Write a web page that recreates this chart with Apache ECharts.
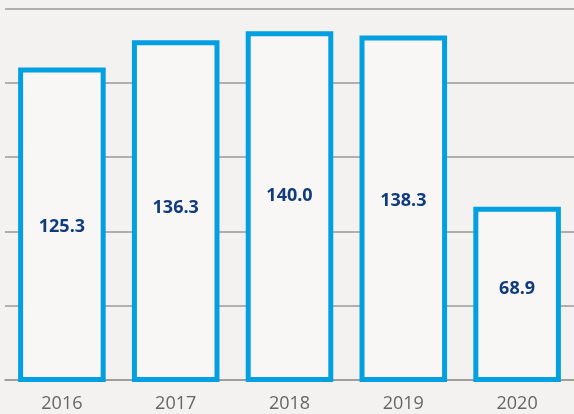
<!DOCTYPE html>
<html>
<head>
<meta charset="utf-8">
<script src="https://cdn.jsdelivr.net/npm/echarts@6/dist/echarts.min.js"></script>
<style>
  html, body { margin: 0; padding: 0; background: #f3f2f1; }
  #chart { width: 574px; height: 414px; }
</style>
</head>
<body>
<div id="chart"></div>
<script>
// 数据
var years = ['2016', '2017', '2018', '2019', '2020'];
var values = [125.3, 136.3, 140.0, 138.3, 68.9];
// label nudges from bar middle (px), the original places them by hand
var labelShift = [2, -3, -11, -8, -6];

var myChart = echarts.init(document.getElementById('chart'));

// bar with border centred on the edge (the built-in bar insets its border)
function renderBar(params, api) {
  var i = api.value(0);
  var v = api.value(1);
  var top = api.coord([i, v]);
  var base = api.coord([i, 0]);
  var w = api.size([1, 0])[0] * 0.7255;
  var mid = (top[1] + base[1]) / 2 + labelShift[i];
  return {
    type: 'group',
    children: [{
      type: 'rect',
      shape: { x: top[0] - w / 2, y: top[1], width: w, height: base[1] - top[1] },
      style: { fill: '#f8f7f6', stroke: '#02a0e0', lineWidth: 5 }
    }, {
      type: 'text',
      x: top[0],
      y: mid,
      style: {
        text: v.toFixed(1),
        fill: '#113c7c',
        fontFamily: 'Open Sans',
        fontWeight: 'bold',
        fontSize: 18,
        align: 'center',
        verticalAlign: 'middle'
      }
    }]
  };
}

var option = {
  backgroundColor: '#f3f2f1',
  animation: false,
  grid: { left: 5, right: -3, top: 9, bottom: 34.5 },
  xAxis: {
    type: 'category',
    data: years,
    axisLine: { lineStyle: { color: '#999', width: 1.5 } },
    axisTick: { show: false },
    axisLabel: {
      color: '#666',
      fontFamily: 'Open Sans',
      fontSize: 18,
      margin: 15
    }
  },
  yAxis: {
    type: 'value',
    min: 0,
    max: 150,
    interval: 30,
    axisLabel: { show: false },
    axisLine: { show: false },
    axisTick: { show: false },
    splitLine: { lineStyle: { color: '#999', width: 1.5 } }
  },
  series: [{
    type: 'custom',
    renderItem: renderBar,
    clip: false,
    encode: { x: 0, y: 1 },
    data: values.map(function (v, i) { return [i, v]; })
  }]
};

myChart.setOption(option);
</script>
</body>
</html>
